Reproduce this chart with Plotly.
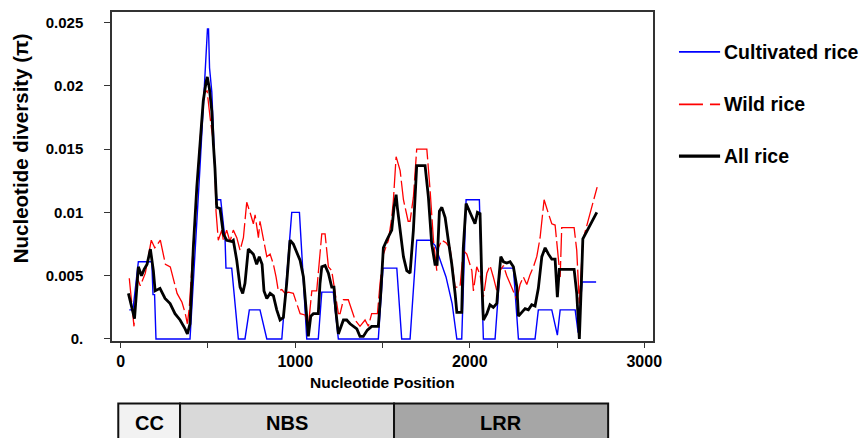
import plotly.graph_objects as go

# ---------------- data ----------------
cult_x = [49, 70, 101, 178, 185, 194, 202, 397, 454, 477, 489, 497, 503, 509, 522, 531, 540, 550,
          573, 598, 603, 636, 674, 712, 737, 798, 837, 923, 980, 1024, 1066, 1132, 1152, 1218, 1247,
          1476, 1503, 1582, 1610, 1658, 1696, 1773, 1801, 1864, 1899, 1926, 1954, 1979, 2055, 2078,
          2145, 2174, 2250, 2279, 2374, 2393, 2470, 2502, 2518, 2604, 2621, 2644, 2724]
cult_y = [0.0023, 0.0023, 0.0061, 0.0061, 0.0035, 0.0035, 0.0, 0.0, 0.0135, 0.019, 0.022, 0.0245,
          0.0245, 0.0214, 0.0195, 0.0159, 0.0133, 0.011, 0.011, 0.0078, 0.0056, 0.0056, 0.0, 0.0,
          0.0023, 0.0023, 0.0, 0.0, 0.01, 0.01, 0.0, 0.0, 0.0037, 0.0037, 0.0, 0.0, 0.0056, 0.0056,
          0.0, 0.0, 0.0078, 0.0078, 0.0074, 0.0049, 0.0028, 0.0, 0.0, 0.011, 0.011, 0.0, 0.0, 0.0056,
          0.0056, 0.0, 0.0, 0.0023, 0.0023, 0.0003, 0.0023, 0.0023, 0.0005, 0.0045, 0.0045]

wild_x = [49, 76, 93, 112, 141, 175, 195, 227, 256, 284, 323, 351, 370, 382, 393, 416, 436, 454,
          477, 495, 512, 531, 540, 546, 559, 579, 588, 607, 626, 645, 665, 684, 703, 722, 741, 760,
          770, 789, 798, 817, 837, 856, 875, 890, 903, 923, 942, 961, 989, 1028, 1056, 1075, 1095,
          1123, 1152, 1171, 1190, 1209, 1228, 1247, 1257, 1276, 1304, 1343, 1371, 1400, 1419, 1438,
          1471, 1486, 1505, 1534, 1553, 1562, 1578, 1601, 1620, 1647, 1658, 1677, 1696, 1754, 1773,
          1792, 1811, 1820, 1840, 1864, 1887, 1906, 1916, 1944, 1963, 1983, 2012, 2021, 2040, 2059,
          2078, 2098, 2116, 2135, 2155, 2174, 2193, 2212, 2231, 2250, 2270, 2288, 2307, 2327, 2346,
          2365, 2384, 2403, 2426, 2451, 2470, 2489, 2508, 2518, 2527, 2598, 2613, 2628, 2648, 2730]
wild_y = [0.0048, 0.001, 0.0049, 0.0042, 0.0052, 0.0078, 0.0072, 0.0078, 0.0059, 0.0057, 0.0036,
          0.0029, 0.002, 0.0012, 0.0025, 0.0072, 0.012, 0.0156, 0.0195, 0.0196, 0.0175, 0.0155,
          0.0133, 0.0101, 0.0078, 0.0086, 0.0078, 0.0086, 0.0077, 0.0086, 0.008, 0.007, 0.008,
          0.0108, 0.01, 0.0091, 0.0098, 0.008, 0.0093, 0.0078, 0.0065, 0.0067, 0.0059, 0.0049,
          0.0038, 0.0039, 0.0036, 0.0037, 0.0036, 0.002, 0.0019, 0.001, 0.0038, 0.0038, 0.0083,
          0.0083, 0.0057, 0.0054, 0.0038, 0.002, 0.002, 0.0031, 0.0031, 0.0015, 0.001, 0.0015,
          0.001, 0.002, 0.002, 0.0044, 0.0067, 0.0078, 0.0096, 0.0109, 0.0144, 0.0133, 0.011,
          0.0093, 0.0093, 0.0112, 0.015, 0.015, 0.0117, 0.0078, 0.0054, 0.0072, 0.0078, 0.0076,
          0.0072, 0.0054, 0.0041, 0.0041, 0.007, 0.0067, 0.0054, 0.0038, 0.0057, 0.0051, 0.0033,
          0.0052, 0.0058, 0.0049, 0.0038, 0.0054, 0.0058, 0.005, 0.0044, 0.0038, 0.0031, 0.0043,
          0.0049, 0.0043, 0.0051, 0.0057, 0.0065, 0.008, 0.011, 0.0099, 0.0091, 0.009, 0.0059,
          0.0049, 0.0088, 0.0088, 0.007, 0.0028, 0.0078, 0.012]

all_x = [44, 72, 79, 101, 119, 134, 151, 170, 187, 197, 225, 254, 283, 311, 340, 369, 382, 397,
         416, 436, 454, 473, 489, 496, 508, 522, 531, 540, 550, 569, 588, 607, 636, 645, 665, 684,
         699, 712, 731, 760, 779, 794, 810, 821, 837, 856, 875, 894, 913, 932, 951, 970, 989, 1009,
         1028, 1047, 1066, 1075, 1089, 1104, 1132, 1142, 1152, 1171, 1190, 1209, 1222, 1232, 1247,
         1276, 1295, 1314, 1353, 1371, 1390, 1413, 1438, 1476, 1490, 1505, 1524, 1553, 1566, 1578,
         1585, 1601, 1620, 1639, 1658, 1677, 1696, 1744, 1763, 1782, 1801, 1813, 1826, 1840, 1859,
         1877, 1897, 1916, 1926, 1954, 1963, 1979, 1998, 2021, 2030, 2044, 2059, 2069, 2078, 2098,
         2116, 2135, 2155, 2164, 2178, 2193, 2212, 2231, 2250, 2270, 2279, 2298, 2317, 2336, 2355,
         2374, 2393, 2413, 2432, 2451, 2470, 2489, 2502, 2513, 2598, 2613, 2628, 2642, 2648, 2728]
all_y = [0.0036, 0.002, 0.0016, 0.0057, 0.005, 0.0055, 0.0059, 0.0071, 0.0054, 0.0038, 0.004,
         0.0032, 0.0028, 0.002, 0.0015, 0.0008, 0.0004, 0.0012, 0.0072, 0.012, 0.0156, 0.0188,
         0.0203, 0.0207, 0.0198, 0.018, 0.0154, 0.0135, 0.0104, 0.0103, 0.0083, 0.0078, 0.0077,
         0.0078, 0.0062, 0.0041, 0.0036, 0.0044, 0.0071, 0.0067, 0.0059, 0.0065, 0.0059, 0.0038,
         0.0032, 0.0036, 0.0034, 0.0023, 0.0015, 0.0017, 0.0044, 0.0078, 0.0075, 0.0069, 0.0062,
         0.0049, 0.0015, 0.0002, 0.0018, 0.002, 0.002, 0.0044, 0.0057, 0.0058, 0.0052, 0.0041,
         0.0041, 0.0023, 0.0004, 0.0015, 0.0015, 0.0012, 0.0008, 0.0002, 0.0002, 0.0007, 0.001,
         0.001, 0.0036, 0.0072, 0.0078, 0.0086, 0.0104, 0.0114, 0.0104, 0.0086, 0.0065, 0.0054,
         0.0052, 0.0086, 0.0137, 0.0137, 0.0112, 0.0075, 0.0059, 0.0059, 0.0101, 0.0104, 0.0096,
         0.0078, 0.0059, 0.0036, 0.0021, 0.0021, 0.0072, 0.0107, 0.0101, 0.0093, 0.0091, 0.01,
         0.0099, 0.0046, 0.0015, 0.002, 0.0027, 0.0025, 0.0028, 0.0044, 0.0065, 0.0061, 0.006,
         0.0061, 0.0057, 0.0041, 0.0018, 0.0021, 0.0024, 0.0023, 0.0027, 0.0026, 0.004, 0.0065,
         0.0072, 0.0067, 0.0063, 0.0063, 0.0033, 0.0055, 0.0055, 0.0036, 0.0, 0.0054, 0.0079, 0.01]

series_names = ["Cultivated rice", "Wild rice", "All rice"]
y_tick_vals = [0, 0.005, 0.01, 0.015, 0.02, 0.025]
y_tick_text = ["0.", "0.005", "0.01", "0.015", "0.02", "0.025"]
x_tick_vals = [0, 1000, 2000, 3000]

domain_names = ["CC", "NBS", "LRR"]
domain_start = [-14, 340, 1566]
domain_end = [340, 1566, 2793]
domain_colors = ["#f2f2f2", "#d9d9d9", "#a6a6a6"]

# ---------------- figure ----------------
FONT = "Liberation Sans, Arial, sans-serif"
NARROW = "Liberation Sans Narrow, Arial Narrow, Liberation Sans, sans-serif"

colors = ["#0000ff", "#ff0000", "#000000"]
widths = [1.4, 1.3, 2.8]
dashes = ["solid", "24px,4px", "solid"]

fig = go.Figure()
for name, xs, ys, c, w, d in zip(series_names, [cult_x, wild_x, all_x], [cult_y, wild_y, all_y],
                                  colors, widths, dashes):
    assert len(xs) == len(ys), name
    fig.add_trace(go.Scatter(x=xs, y=ys, mode="lines", name=name,
                             line=dict(color=c, width=w, dash=d), showlegend=False))

fig.update_layout(
    width=862, height=438, autosize=False,
    margin=dict(l=112, r=209, t=10, b=97),
    paper_bgcolor="white", plot_bgcolor="white",
    font=dict(family=FONT, color="black"),
    xaxis=dict(range=[-50, 3050], tickvals=x_tick_vals, ticks="outside", ticklen=5,
               tickwidth=1.2, tickcolor="#333", minor=dict(tickvals=[500, 1500, 2500], ticks="outside",
               ticklen=5, tickwidth=1.2, tickcolor="#333"),
               showline=True, linecolor="#333", linewidth=1.5, mirror=True,
               showgrid=False, zeroline=False,
               tickfont=dict(family=NARROW, size=16, color="black", weight="bold")),
    yaxis=dict(range=[-0.00016, 0.02583], tickvals=y_tick_vals, ticktext=y_tick_text,
               ticks="outside", ticklen=6, tickwidth=1.2, tickcolor="#333",
               showline=True, linecolor="#333", linewidth=1.5, mirror=True,
               showgrid=False, zeroline=False, ticklabelstandoff=18,
               tickfont=dict(family=FONT, size=15, color="black", weight="bold")),
)

# axis titles
fig.add_annotation(text="Nucleotide Position", xref="paper", yref="paper", x=0.5, y=-0.127,
                   showarrow=False, font=dict(family=NARROW, size=15.5, weight="bold"),
                   xanchor="center", yanchor="middle")
fig.add_annotation(text="Nucleotide diversity (π)", xref="paper", yref="paper", x=-0.170, y=0.586,
                   showarrow=False, textangle=-90, font=dict(family=FONT, size=20.5, weight="bold"),
                   xanchor="center", yanchor="middle")

# legend (manual)
leg_y = [0.879, 0.719, 0.562]
for name, c, w, d, yy in zip(series_names, colors, widths, dashes, leg_y):
    fig.add_shape(type="line", xref="paper", yref="paper", x0=1.048, x1=1.124, y0=yy, y1=yy,
                  line=dict(color=c, width=w + 0.4, dash=d if d == "solid" else "24px,7px"))
    fig.add_annotation(text=name, xref="paper", yref="paper", x=1.127, y=yy, showarrow=False,
                       xanchor="left", yanchor="middle",
                       font=dict(family=FONT, size=19.5, weight="bold", color="black"))

# domain bar
for nm, s, e, col in zip(domain_names, domain_start, domain_end, domain_colors):
    fig.add_shape(type="rect", xref="x", yref="paper", x0=s, x1=e, y0=-0.30, y1=-0.190,
                  fillcolor=col, line=dict(color="#111", width=2), layer="above")
    fig.add_annotation(text=nm, xref="x", yref="paper", x=(s + e) / 2, y=-0.249, showarrow=False,
                       xanchor="center", yanchor="middle",
                       font=dict(family=FONT, size=20, weight="bold", color="black"))

fig.write_html("out.html", config={"displayModeBar": False},
               post_script="document.body.style.margin='0';document.body.style.overflow='hidden';")
